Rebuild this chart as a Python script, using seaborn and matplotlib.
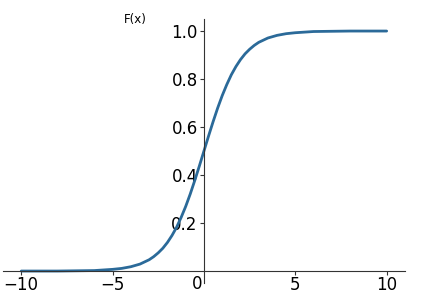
import matplotlib
matplotlib.use("Agg")
import matplotlib.pyplot as plt
import seaborn as sns
import pandas as pd

x_values = [-10, -8, -7, -6, -5, -4.5, -4, -3.5, -3, -2.75, -2.5, -2.25, -2, -1.75, -1.5,
            -1.25, -1, -0.75, -0.5, -0.25, 0, 0.25, 0.5, 0.75, 1, 1.25, 1.5, 1.75, 2,
            2.25, 2.5, 2.75, 3, 3.5, 4, 4.5, 5, 6, 7, 8, 10]
f_values = [0.000, 0.000, 0.001, 0.002, 0.007, 0.011, 0.018, 0.029, 0.047, 0.060,
            0.076, 0.095, 0.119, 0.148, 0.182, 0.223, 0.269, 0.321, 0.378, 0.438,
            0.500, 0.562, 0.622, 0.679, 0.731, 0.777, 0.818, 0.852, 0.881, 0.905,
            0.924, 0.940, 0.953, 0.971, 0.982, 0.989, 0.993, 0.998, 0.999, 1.000, 1.000]
x_ticks = [-10, -5, 5, 10]
y_ticks = [0.2, 0.4, 0.6, 0.8, 1.0]

sns.set_style("white")
df = pd.DataFrame({"x": x_values, "F": f_values})

fig = plt.figure(figsize=(4.24, 2.93), dpi=100)
ax = fig.add_axes([0.007, 0.034, 0.948, 0.901])
sns.lineplot(data=df, x="x", y="F", ax=ax, color="#2b6a99", linewidth=2.0)

ax.set_xlim(-11, 11)
ax.set_ylim(-0.05, 1.05)
ax.spines["left"].set_position(("data", 0))
ax.spines["bottom"].set_position(("data", 0))
ax.spines["right"].set_visible(False)
ax.spines["top"].set_visible(False)
for s in ["left", "bottom"]:
    ax.spines[s].set_color("#333333")
    ax.spines[s].set_linewidth(0.8)
ax.set_xticks(x_ticks)
ax.set_yticks(y_ticks)
ax.set_yticklabels([f"{v:.1f}" for v in y_ticks])
ax.tick_params(axis="both", labelsize=12, length=3, width=0.8,
               color="#333333", labelcolor="black", pad=1.5, left=True, bottom=True)
ax.tick_params(axis="x", pad=0.3)
ax.set_xlabel("")
ax.set_ylabel("")
ax.text(-0.35, -0.017, "0", ha="center", va="top", fontsize=12, color="black")
ax.text(0.33, 1.0, "F(x)", transform=ax.transAxes, ha="center", va="center",
        fontsize=8.5, color="black")

fig.savefig("out.png", dpi=100)
